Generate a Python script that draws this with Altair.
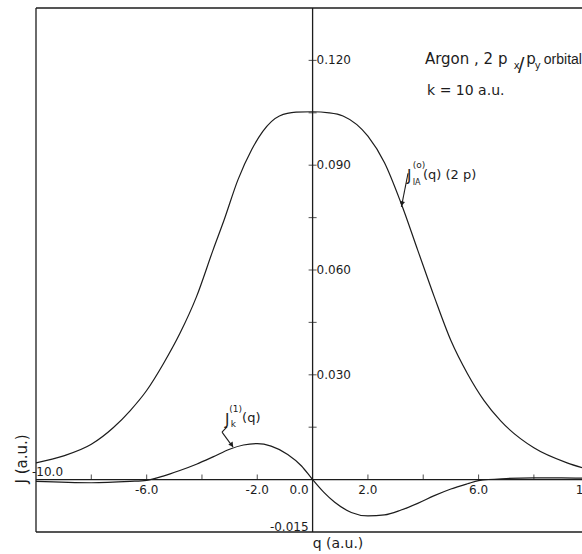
import altair as alt
import pandas as pd

# ---- data ----
# J_IA^(0)(q)(2p) : impulse-approximation profile
Q_J0 = [-10.0, -9.0, -8.0, -7.2, -6.6, -6.0, -5.4, -4.8, -4.2, -3.6, -3.2, -2.7, -2.2,
        -1.8, -1.2, -0.6, 0.0, 0.6, 1.1, 2.0, 2.6, 3.2, 3.8, 4.4, 5.0, 5.6, 6.2, 6.8,
        8.0, 9.2, 9.75]
V_J0 = [0.0048, 0.0068, 0.0101, 0.0149, 0.0197, 0.0255, 0.0331, 0.0418, 0.0523, 0.0657,
        0.0743, 0.0858, 0.0945, 0.0997, 0.1041, 0.1052, 0.1053, 0.1050, 0.1041, 0.0983,
        0.0907, 0.0791, 0.0657, 0.0523, 0.0398, 0.0303, 0.0226, 0.0168, 0.0091, 0.0048,
        0.0034]
# J_k^(1)(q) : first-order correction
Q_J1 = [-10.0, -8.0, -6.6, -6.0, -5.4, -4.8, -4.2, -3.6, -3.0, -2.5, -2.0, -1.5, -0.9,
        -0.4, 0.0, 0.4, 0.8, 1.4, 2.0, 2.6, 3.2, 3.8, 4.4, 5.0, 5.6, 6.0, 7.0, 8.0, 9.0,
        9.75]
V_J1 = [-0.0005, -0.0009, -0.0005, -0.0002, 0.0010, 0.0026, 0.0044, 0.0065, 0.0087,
        0.0099, 0.0103, 0.0096, 0.0072, 0.0039, 0.0, -0.0036, -0.0065, -0.0094, -0.0104,
        -0.0101, -0.0087, -0.0068, -0.0046, -0.0027, -0.0012, -0.0003, 0.0003, 0.0005,
        0.0005, 0.0004]

X_DOMAIN = [-10.0, 9.74]
Y_DOMAIN = [-0.015, 0.135]
X_TICKS = [-8, -6, -4, -2, 2, 4, 6, 8]
X_LABEL_VALUES = [-6, -2, 2, 6, 10]
X_LABEL_TEXT = ["-6.0", "-2.0", "2.0", "6.0", "10.0"]
Y_TICKS = [0.015, 0.030, 0.045, 0.060, 0.075, 0.090, 0.105, 0.120]
Y_LABEL_VALUES = [0.030, 0.060, 0.090, 0.120]
Y_LABEL_TEXT = ["0.030", "0.060", "0.090", "0.120"]

INK = "#1c1c1c"
FONT = "DejaVu Sans"
W, H = 546, 524

xs = alt.Scale(domain=X_DOMAIN, nice=False, zero=False)
ys = alt.Scale(domain=Y_DOMAIN, nice=False, zero=False)


def X(f="q"):
    return alt.X(f"{f}:Q", scale=xs, axis=None)


def Y(f="v"):
    return alt.Y(f"{f}:Q", scale=ys, axis=None)


curves = pd.concat([
    pd.DataFrame({"q": Q_J0, "v": V_J0, "s": "J0"}),
    pd.DataFrame({"q": Q_J1, "v": V_J1, "s": "J1"}),
])

lines = alt.Chart(curves).mark_line(
    color=INK, strokeWidth=1.2, interpolate="monotone", clip=True
).encode(x=X(), y=Y(), detail="s:N")

# frame and the two zero axes
x0, x1 = X_DOMAIN
y0, y1 = Y_DOMAIN
frame_df = pd.DataFrame({
    "q": [x0, x0, x0, x0, 0.0],
    "q2": [x0, x1, x1, x1, 0.0],
    "v": [y0, y1, y0, 0.0, y0],
    "v2": [y1, y1, y0, 0.0, y1],
})
frame = alt.Chart(frame_df).mark_rule(color=INK, strokeWidth=1.3).encode(
    x=X(), x2="q2:Q", y=Y(), y2="v2:Q")

xt = alt.Chart(pd.DataFrame({"q": X_TICKS, "v": 0.0})).mark_tick(
    orient="vertical", size=5, thickness=1.1, yOffset=-2.5, color=INK
).encode(x=X(), y=Y())
yt = alt.Chart(pd.DataFrame({"q": 0.0, "v": Y_TICKS})).mark_tick(
    orient="horizontal", size=8, thickness=1.1, color=INK
).encode(x=X(), y=Y())

txt = dict(font=FONT, fontSize=12, color=INK)
xl = alt.Chart(pd.DataFrame({"q": X_LABEL_VALUES, "v": 0.0, "t": X_LABEL_TEXT})).mark_text(
    align="center", baseline="top", dy=5, **txt).encode(x=X(), y=Y(), text="t:N")
xl0 = alt.Chart(pd.DataFrame({"q": [0.0], "v": [0.0], "t": ["0.0"]})).mark_text(
    align="right", baseline="top", dx=-4, dy=5, **txt).encode(x=X(), y=Y(), text="t:N")
xlm = alt.Chart(pd.DataFrame({"q": [x0], "v": [0.0], "t": ["-10.0"]})).mark_text(
    align="left", baseline="alphabetic", dx=-4, dy=-4, **txt).encode(x=X(), y=Y(), text="t:N")
yl = alt.Chart(pd.DataFrame({"q": 0.0, "v": Y_LABEL_VALUES, "t": Y_LABEL_TEXT})).mark_text(
    align="left", baseline="middle", dx=4, **txt).encode(x=X(), y=Y(), text="t:N")
ylm = alt.Chart(pd.DataFrame({"q": [0.0], "v": [y0], "t": ["-0.015"]})).mark_text(
    align="right", baseline="alphabetic", dx=-4, dy=-1, **txt).encode(x=X(), y=Y(), text="t:N")

# axis titles
xtitle = alt.Chart(pd.DataFrame({"t": ["q (a.u.)"]})).mark_text(
    font=FONT, fontSize=14, color=INK, align="center", baseline="middle"
).encode(x=alt.value(302), y=alt.value(536), text="t:N")
ytitle = alt.Chart(pd.DataFrame({"t": ["J (a.u.)"]})).mark_text(
    font=FONT, fontSize=15, color=INK, align="center", baseline="middle", angle=270
).encode(x=alt.value(-14), y=alt.value(451), text="t:N")

# annotations (text, q, J, font size)
ANNOT = [
    ("Argon , 2 p", 4.06, 0.1190, 15),
    ("x", 7.27, 0.1175, 10),
    ("/", 7.43, 0.1170, 19),
    ("p", 7.72, 0.1190, 15),
    ("y", 8.03, 0.1176, 10),
    ("k = 10 a.u.", 4.14, 0.1101, 14),
    ("J", 3.41, 0.0855, 15),
    ("(o)", 3.62, 0.0892, 9),
    ("IA", 3.62, 0.0843, 8),
    ("(q) (2 p)", 3.99, 0.0861, 13),
    ("J", -3.17, 0.0156, 15),
    ("(1)", -3.01, 0.0193, 9),
    ("k", -2.96, 0.0150, 9),
    ("(q)", -2.55, 0.0165, 13),
]
annot_df = pd.DataFrame(ANNOT, columns=["t", "q", "v", "fs"])
annot = alt.Chart(annot_df).mark_text(
    font=FONT, color=INK, align="left", baseline="alphabetic"
).encode(x=X(), y=Y(), text="t:N", size=alt.Size("fs:Q", scale=None, legend=None))
orbital = alt.Chart(pd.DataFrame({"t": ["orbital"], "q": [8.36], "v": [0.1190]})).mark_text(
    font="Liberation Sans", fontSize=14, color=INK, align="left", baseline="alphabetic"
).encode(x=X(), y=Y(), text="t:N")

# arrows (segments) from labels to curves
ARROWS = [
    (3.45, 0.0877, 3.21, 0.0781),
    (-3.095, 0.0151, -3.275, 0.0136),
    (-3.275, 0.0136, -2.878, 0.0093),
]
arrow_df = pd.DataFrame(ARROWS, columns=["q", "v", "q2", "v2"])
arrows = alt.Chart(arrow_df).mark_rule(color=INK, strokeWidth=1.1).encode(
    x=X(), x2="q2:Q", y=Y(), y2="v2:Q")
HEADS = [(3.23, 0.0790, 11), (-2.92, 0.0099, 324)]
head_df = pd.DataFrame(HEADS, columns=["q", "v", "a"])
heads = alt.Chart(head_df).mark_point(
    shape="triangle-down", filled=True, color=INK, size=28, opacity=1
).encode(x=X(), y=Y(), angle=alt.Angle("a:Q", scale=None))

chart = alt.layer(
    frame, xt, yt, lines, xl, xl0, xlm, yl, ylm, xtitle, ytitle, annot, orbital,
    arrows, heads
).properties(
    width=W, height=H,
    autosize=alt.AutoSizeParams(type="none"),
    padding={"left": 36, "top": 8, "right": 0, "bottom": 22},
    background="white",
).configure_view(strokeWidth=0)

chart.save("out.html", embed_options={"renderer": "svg", "actions": False})
